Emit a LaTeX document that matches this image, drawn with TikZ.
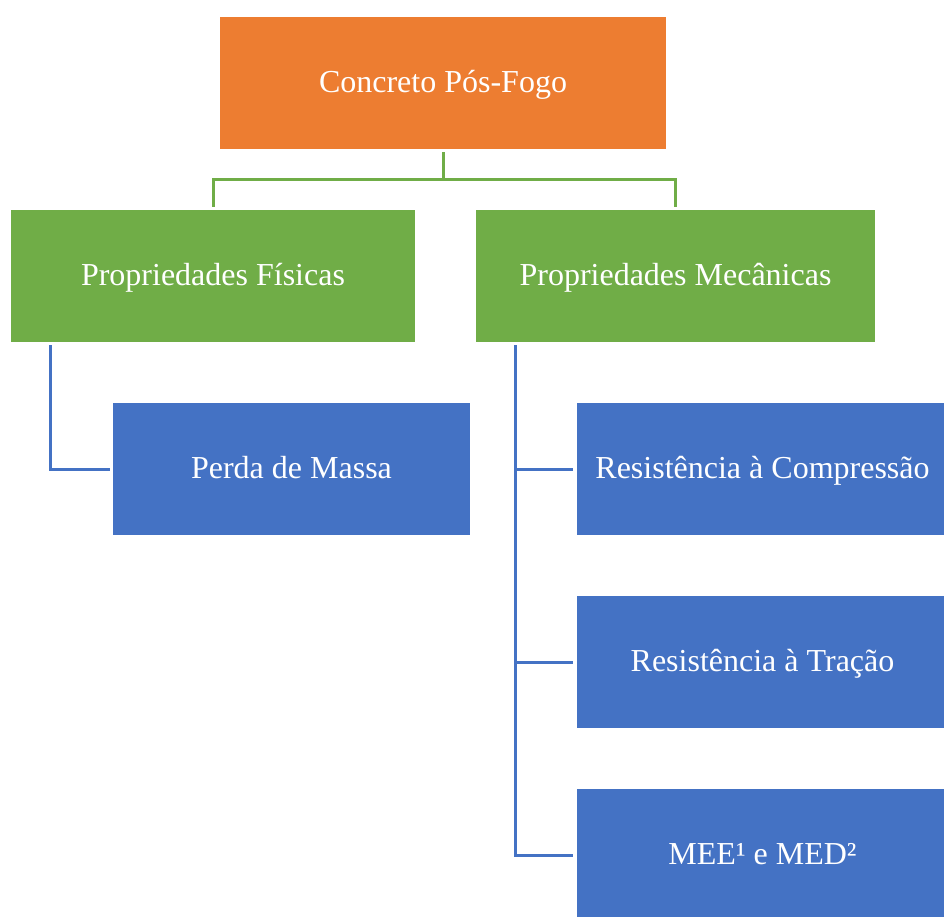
\documentclass[tikz,border=0pt]{standalone}
\usepackage{fontspec}
\setmainfont{Liberation Serif}
\definecolor{corange}{HTML}{ED7D31}
\definecolor{cgreen}{HTML}{70AD47}
\definecolor{cblue}{HTML}{4472C4}
\tikzset{
  boxbase/.style={inner sep=0pt, outer sep=0pt, minimum height=132pt, text height=24pt, text depth=6pt, text=white, font=\fontsize{32}{36}\selectfont},
  obox/.style={boxbase, fill=corange},
  gbox/.style={boxbase, fill=cgreen},
  bbox/.style={boxbase, fill=cblue},
  gline/.style={draw=cgreen, line width=3pt},
  bline/.style={draw=cblue, line width=3pt},
}
\begin{document}
\begin{tikzpicture}[x=1pt,y=-1pt]
\clip (0,0) rectangle (944,916);
\fill[white] (0,0) rectangle (944,916);
\node[obox, minimum width=446pt] (top) at (443,83) {Concreto Pós-Fogo};
\node[gbox, minimum width=404pt] (pf) at (213,276) {Propriedades Físicas};
\node[gbox, minimum width=399pt] (pm) at (675.5,276) {Propriedades Mecânicas};
\node[bbox, minimum width=357pt] (pdm) at (291.5,469) {Perda de Massa};
\node[bbox, minimum width=367pt] (rc) at (760.5,469) {\hspace{4pt}Resistência à Compressão};
\node[bbox, minimum width=367pt] (rt) at (760.5,662) {\hspace{4pt}Resistência à Tração};
\node[bbox, minimum width=367pt] (mee) at (760.5,855) {\hspace{4pt}MEE¹ e MED²};
\coordinate (gj) at (443,179);
\draw[gline] ([yshift=-3pt]top.south) -- (gj);
\draw[gline] (gj) -| ([yshift=3pt]pf.north);
\draw[gline] (gj) -| ([yshift=3pt]pm.north);
\draw[bline] ([xshift=39pt,yshift=-3pt]pf.south west) |- ([xshift=-3pt]pdm.west);
\coordinate (bx) at ([xshift=39pt,yshift=-3pt]pm.south west);
\draw[bline] (bx) |- ([xshift=-4pt]mee.west);
\draw[bline] (bx |- rc.west) -- ([xshift=-4pt]rc.west);
\draw[bline] (bx |- rt.west) -- ([xshift=-4pt]rt.west);
\end{tikzpicture}
\end{document}
